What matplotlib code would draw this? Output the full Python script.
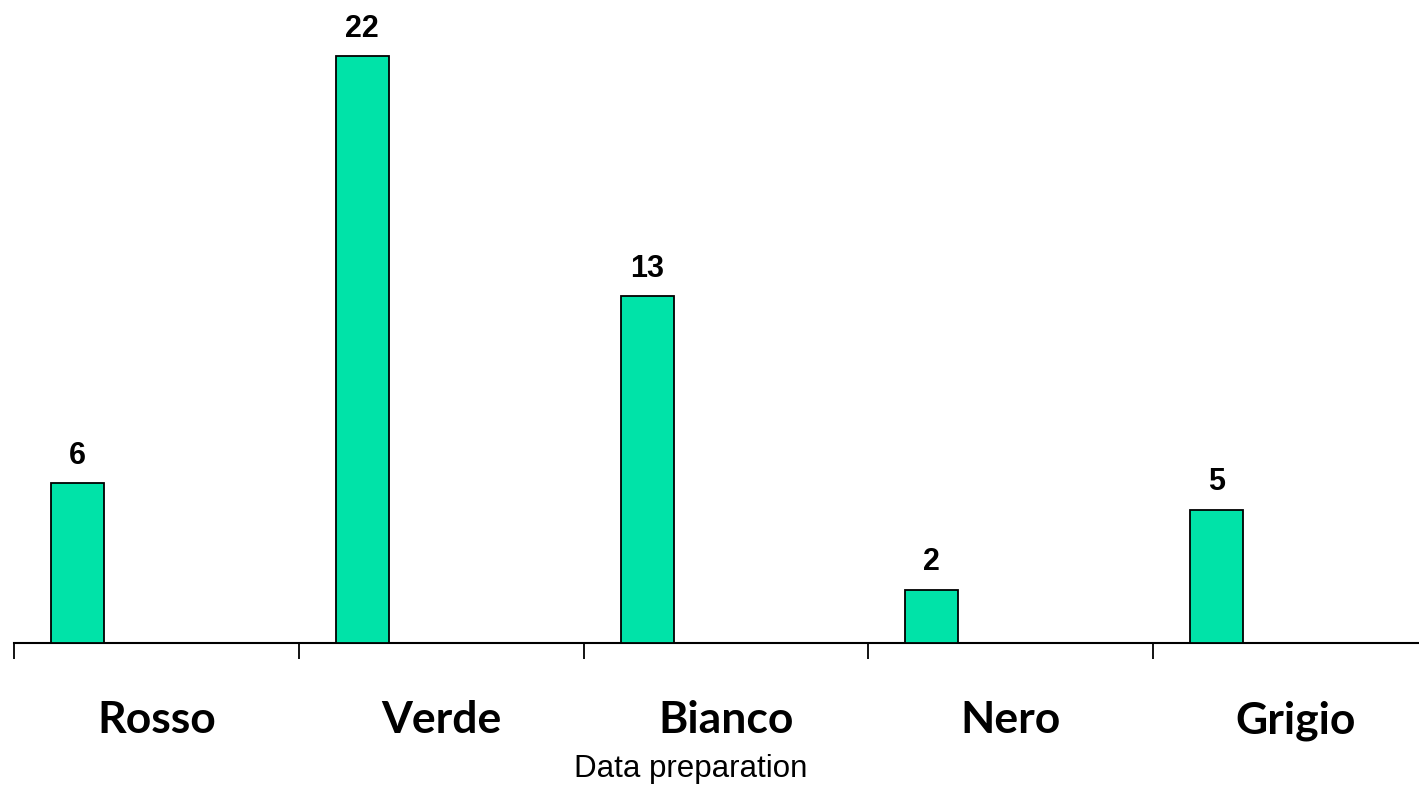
import matplotlib
matplotlib.use("Agg")
import matplotlib.pyplot as plt

categories = ["Rosso", "Verde", "Bianco", "Nero", "Grigio"]
values = [6, 22, 13, 2, 5]
xlabel_text = "Data preparation"

W, H = 1419, 792
fig = plt.figure(figsize=(W / 100, H / 100), dpi=100)

slot_px = 284.8
left_px = 14
base_px = 643
unit_px = 26.68
ymax = 24

ax_left = left_px / W
ax_bottom = (H - base_px) / H
ax_width = (W - left_px) / W
ax_height = ymax * unit_px / H
ax = fig.add_axes([ax_left, ax_bottom, ax_width, ax_height])

xmax = (W - left_px) / slot_px
bar_offset = 37 / slot_px
bar_width = 53 / slot_px

positions = [i + bar_offset for i in range(len(categories))]
bars = ax.bar(positions, values, width=bar_width, align="edge",
              color="#00E3A8", edgecolor="black", linewidth=1.3, zorder=3)

for rect, v in zip(bars, values):
    ax.text(rect.get_x() + rect.get_width() / 2, v + 0.72, str(v),
            ha="center", va="baseline", fontsize=22, fontweight="bold",
            family="Liberation Sans", clip_on=False)

ax.set_xlim(0, xmax)
ax.set_ylim(0, ymax)
for side in ("top", "right", "left"):
    ax.spines[side].set_visible(False)
ax.spines["bottom"].set_linewidth(1.5)
ax.set_yticks([])
ax.set_xticks(range(len(categories)))
ax.set_xticklabels([])
ax.tick_params(axis="x", direction="out", length=11.5, width=1.3)

for i, name in enumerate(categories):
    ax.text(i + 0.5, -2.9, name, ha="center", va="center",
            fontsize=32, fontweight="bold", family="Lato", clip_on=False)

fig.text(691 / W, 1 - 769 / H, xlabel_text, ha="center", va="center",
         fontsize=22.5, family="Liberation Sans")

fig.savefig("out.png", dpi=100)
